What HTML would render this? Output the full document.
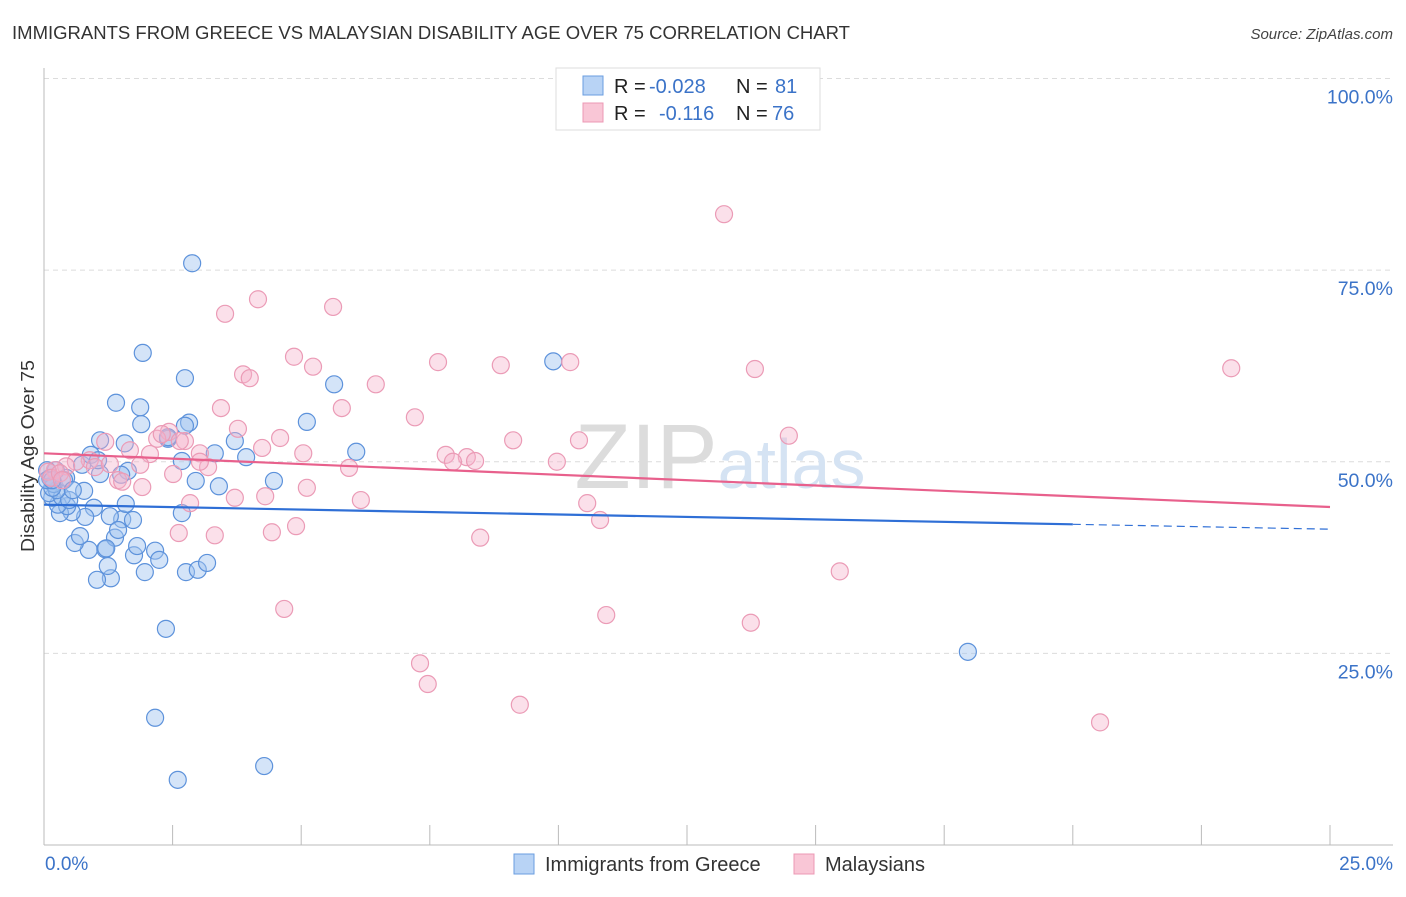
<!DOCTYPE html>
<html><head><meta charset="utf-8"><style>
body{margin:0;background:#fff;font-family:"Liberation Sans",sans-serif;}
svg text{font-family:"Liberation Sans",sans-serif;}
</style></head><body>
<svg id="chart" width="1406" height="892" viewBox="0 0 1406 892" xmlns="http://www.w3.org/2000/svg">
<text x="12" y="39" font-size="18" fill="#333" textLength="838" lengthAdjust="spacingAndGlyphs">IMMIGRANTS FROM GREECE VS MALAYSIAN DISABILITY AGE OVER 75 CORRELATION CHART</text>
<text x="1393" y="39" font-size="15" fill="#444" text-anchor="end" font-style="italic">Source: ZipAtlas.com</text>
<g id="grid"></g>
<text x="720" y="488" font-size="92" text-anchor="middle" fill="#e6e6e6" font-family="Liberation Serif"><tspan fill="#dcdcdc">ZIP</tspan><tspan fill="#d5e3f3" font-family="Liberation Sans" font-size="70">atlas</tspan></text>
<g id="marks"></g>
<text transform="translate(34,456) rotate(-90)" font-size="18" fill="#333" text-anchor="middle" textLength="192" lengthAdjust="spacingAndGlyphs">Disability Age Over 75</text>
<text x="45" y="870" font-size="19" fill="#3b73c8">0.0%</text>
<text x="1393" y="870" font-size="19" fill="#3b73c8" text-anchor="end">25.0%</text>
<g>
<rect x="556" y="68" width="264" height="62" fill="#fff" stroke="#ddd"/>
<rect x="583" y="76" width="20" height="19" fill="#b8d3f5" stroke="#6a9ee0"/>
<rect x="583" y="103" width="20" height="19" fill="#f9c6d6" stroke="#ec98b4"/>
<text x="614" y="93" font-size="20" fill="#222">R = <tspan x="649" fill="#3b73c8">-0.028</tspan><tspan x="736">N = </tspan><tspan x="775" fill="#3b73c8">81</tspan></text>
<text x="614" y="120" font-size="20" fill="#222">R = <tspan x="659" fill="#3b73c8">-0.116</tspan><tspan x="736">N = </tspan><tspan x="772" fill="#3b73c8">76</tspan></text>
</g>
<g>
<rect x="514" y="854" width="20" height="20" fill="#b8d3f5" stroke="#6a9ee0"/>
<text x="545" y="871" font-size="20" fill="#333">Immigrants from Greece</text>
<rect x="794" y="854" width="20" height="20" fill="#f9c6d6" stroke="#ec98b4"/>
<text x="825" y="871" font-size="20" fill="#333">Malaysians</text>
</g>
</svg>
<script>
const yTicks=[25,50,75,100];
const yTickLabels=["25.0%","50.0%","75.0%","100.0%"];
const xTicks=[0,2.5,5,7.5,10,12.5,15,17.5,20,22.5,25];
const greeceX=[2.88,1.92,2.74,1.40,1.87,2.82,1.89,1.57,1.09,2.41,3.71,3.32,2.68,2.95,3.40,4.47,5.11,5.64,6.07,9.90,17.96,2.60,4.28,2.16,2.37,2.76,2.99,3.17,1.96,1.75,2.16,1.81,1.30,1.03,1.24,1.19,0.87,0.60,0.70,1.38,1.52,1.73,1.28,1.59,0.97,0.80,0.54,0.31,0.45,0.27,0.16,0.10,0.35,0.49,0.25,0.78,0.12,0.19,0.43,0.23,0.06,0.16,0.74,0.91,1.09,1.63,1.21,2.68,2.24,3.93,2.74,0.06,0.39,0.56,1.05,1.44,1.50,0.16,2.41];
const greeceY=[75.9,64.2,60.9,57.7,57.1,55.1,54.9,52.4,52.8,53.0,52.7,51.1,50.1,47.5,46.8,47.5,55.2,60.1,51.3,63.1,25.2,8.5,10.3,16.6,28.2,35.6,35.9,36.8,35.6,37.8,38.4,39.0,34.8,34.6,36.4,38.6,38.5,39.4,40.3,40.1,42.5,42.4,42.9,44.5,44.0,42.8,43.4,43.3,44.2,44.4,45.3,45.9,45.4,45.0,46.3,46.2,47.9,47.1,47.9,48.9,48.9,46.6,49.6,50.9,48.4,48.8,38.7,43.3,37.2,50.6,54.7,47.6,47.6,46.3,50.2,41.1,48.3,47.6,53.2];
const malayX=[13.22,4.16,5.62,3.52,4.86,7.66,8.88,10.23,5.23,3.87,4.00,6.45,13.82,23.08,3.44,5.79,7.21,3.77,2.43,4.59,2.74,9.12,14.48,4.24,5.04,2.20,10.40,7.81,8.22,8.38,7.95,9.97,5.93,3.03,3.19,2.06,1.67,1.19,0.89,0.62,0.43,0.21,0.08,0.14,0.31,0.99,1.44,1.91,2.51,5.11,6.16,2.84,3.71,4.30,10.56,10.81,8.48,4.90,4.43,2.62,3.32,15.47,4.67,10.93,13.74,7.31,7.46,9.25,20.53,1.52,1.28,0.35,1.87,3.03,2.64,2.29];
const malayY=[82.3,71.2,70.2,69.3,63.7,63.0,62.6,63.0,62.4,61.4,60.9,60.1,62.1,62.2,57.0,57.0,55.8,54.3,53.9,53.1,52.7,52.8,53.4,51.8,51.1,53.0,52.8,50.9,50.6,50.1,50.0,50.0,49.2,51.1,49.3,51.0,51.5,52.6,50.2,50.0,49.4,48.9,48.7,47.9,48.5,49.3,47.6,46.7,48.4,46.6,45.0,44.6,45.3,45.5,44.6,42.4,40.1,41.6,40.8,40.7,40.4,35.7,30.8,30.0,29.0,23.7,21.0,18.3,16.0,47.4,49.7,47.6,49.6,50.0,52.7,53.6];
const greeceTrend=[44.4,41.2];
const malayTrend=[51.1,44.1];

const NS="http://www.w3.org/2000/svg";
const X0=44,X1=1330,YB=845,YT=78.5;
function sx(v){return X0+(v/25)*(X1-X0);}
function sy(v){return YB-(v/100)*(YB-YT);}
function mk(tag,attrs,parent){const e=document.createElementNS(NS,tag);for(const k in attrs)e.setAttribute(k,attrs[k]);parent.appendChild(e);return e;}
const grid=document.getElementById('grid');
const marks=document.getElementById('marks');
yTicks.forEach((t,i)=>{
  const l=mk('line',{x1:X0,x2:1393,y1:sy(t),y2:sy(t),stroke:'#dcdcdc','stroke-dasharray':'5,4'},grid);
  
  
  const tx=mk('text',{x:1393,y:sy(t)+25,'font-size':19.5,fill:'#3b73c8','text-anchor':'end'},grid);
  tx.textContent=yTickLabels[i];
  
  
});
const ax=mk('line',{x1:X0,x2:X0,y1:68,y2:YB,stroke:'#bbb'},grid);


const bx=mk('line',{x1:X0,x2:1393,y1:YB,y2:YB,stroke:'#bbb'},grid);


xTicks.forEach(t=>{
  const l=mk('line',{x1:sx(t),x2:sx(t),y1:825,y2:YB,stroke:'#bbb'},grid);
  
  
});
greeceX.forEach((x,i)=>{
  const c=mk('circle',{cx:sx(x),cy:sy(greeceY[i]),r:8.5,fill:'rgba(160,196,240,0.45)',stroke:'#5d92db','stroke-width':1.2},marks);
  
  
});
malayX.forEach((x,i)=>{
  const c=mk('circle',{cx:sx(x),cy:sy(malayY[i]),r:8.5,fill:'rgba(246,178,202,0.4)',stroke:'#eb9bb6','stroke-width':1.2},marks);
  
  
});
function trendAt(tr,x){return tr[0]+(tr[1]-tr[0])*x/25;}
const bl=mk('line',{x1:sx(0),y1:sy(greeceTrend[0]),x2:sx(20),y2:sy(trendAt(greeceTrend,20)),stroke:'#2f6fd6','stroke-width':2.2},marks);


const bd=mk('line',{x1:sx(20),y1:sy(trendAt(greeceTrend,20)),x2:sx(25),y2:sy(greeceTrend[1]),stroke:'#2f6fd6','stroke-width':1.2,'stroke-dasharray':'8,5'},marks);


const pl=mk('line',{x1:sx(0),y1:sy(malayTrend[0]),x2:sx(25),y2:sy(malayTrend[1]),stroke:'#e8608c','stroke-width':2.2},marks);


</script>
</body></html>
